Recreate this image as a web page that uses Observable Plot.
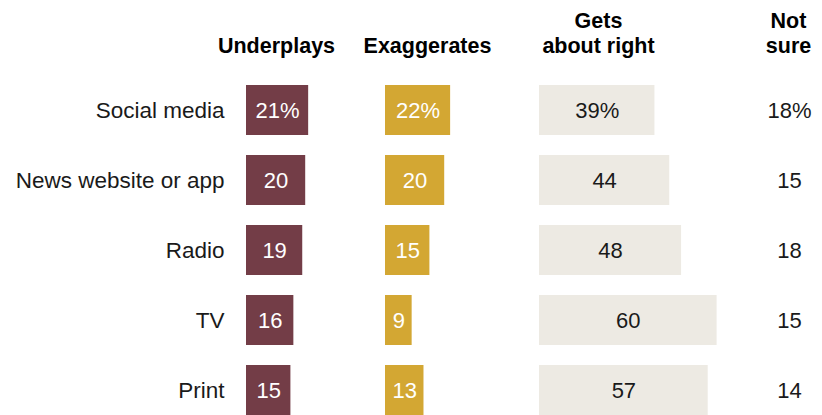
<!DOCTYPE html>
<html>
<head>
<meta charset="utf-8">
<script src="https://cdn.jsdelivr.net/npm/d3@7"></script>
<script src="https://cdn.jsdelivr.net/npm/@observablehq/plot@0.6"></script>
<style>
  html, body { margin: 0; padding: 0; background: #fff; }
</style>
</head>
<body>
<div id="chart"></div>
<script>
// ---- data ----
const categories = ["Social media", "News website or app", "Radio", "TV", "Print"];
const underplays = [21, 20, 19, 16, 15];
const exaggerates = [22, 20, 15, 9, 13];
const getsAboutRight = [39, 44, 48, 60, 57];
const notSure = [18, 15, 18, 15, 14];
const headers = ["Underplays", "Exaggerates", "Gets\nabout right", "Not\nsure"];

// ---- layout (pixels) ----
const W = 822, H = 415;
const PX_PER_POINT = 2.96;
const u = px => px / PX_PER_POINT;           // pixel -> x-scale units
const colStart = [246, 385, 539];             // left edge of each bar column
const notSureX = 789;
const headerX = [276, 427, 598, 788];
const labelRight = 224;
const FONT = "'Liberation Sans', Arial, sans-serif";

const series = [
  {values: underplays, fill: "#733d47", ink: "#ffffff"},
  {values: exaggerates, fill: "#d3a733", ink: "#ffffff"},
  {values: getsAboutRight, fill: "#edeae3", ink: "#1a1a1a"}
].map((s, k) => ({
  ...s,
  rows: s.values.map((v, i) => ({
    category: categories[i],
    start: u(colStart[k]),
    value: v,
    label: i === 0 ? `${v}%` : `${v}`
  }))
}));

const notSureRows = notSure.map((v, i) => ({category: categories[i], value: v, label: i === 0 ? `${v}%` : `${v}`}));
const headerRows = headers.map((h, i) => ({text: h, x: u(headerX[i])}));

const marks = [];
for (const s of series) {
  marks.push(Plot.barX(s.rows, {x1: "start", x2: d => d.start + d.value, y: "category", fill: s.fill}));
  marks.push(Plot.text(s.rows, {x: d => d.start + d.value / 2, y: "category", text: "label", fill: s.ink, fontSize: 22}));
}
marks.push(Plot.text(categories, {x: u(labelRight), y: d => d, text: d => d, textAnchor: "end", fill: "#1a1a1a", fontSize: 22.5}));
marks.push(Plot.text(notSureRows, {x: u(notSureX), y: "category", text: "label", fill: "#1a1a1a", fontSize: 22}));
marks.push(Plot.text(headerRows, {x: "x", text: "text", frameAnchor: "top", dy: 52, lineAnchor: "bottom",
  fontWeight: "bold", fontSize: 21.5, lineHeight: 25 / 21.5, fill: "#000"}));

const chart = Plot.plot({
  width: W,
  height: H,
  margin: 0,
  style: {fontFamily: FONT, background: "#fff", overflow: "hidden"},
  x: {domain: [0, u(W)], range: [0, W], axis: null},
  y: {domain: categories, range: [73.8, 426.3], paddingInner: 0.29, paddingOuter: 0.145, axis: null},
  marks
});
document.getElementById("chart").appendChild(chart);
</script>
</body>
</html>
